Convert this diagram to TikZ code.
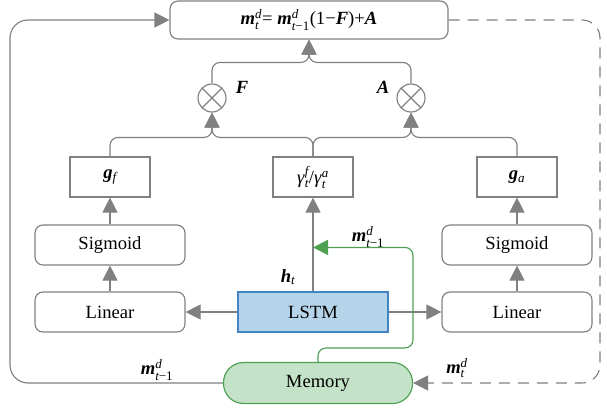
\documentclass[tikz,border=0pt]{standalone}
\usepackage{amsmath}
\usepackage{fontspec}
\setmainfont{Liberation Serif}
\usetikzlibrary{calc,arrows.meta}

\definecolor{lin}{RGB}{128,128,128}
\definecolor{lstmfill}{RGB}{181,212,233}
\definecolor{lstmdraw}{RGB}{66,132,200}
\definecolor{memfill}{RGB}{196,226,200}
\definecolor{memdraw}{RGB}{78,160,82}

\newcommand{\bv}[1]{\textbf{\textit{#1}}}
\newcommand{\iv}[1]{\textit{#1}}

\begin{document}
\begin{tikzpicture}
      [x=1pt,y=-1pt
    % общие настройки: шрифт и толщина линий
      ,font=\fontsize{18.6}{22}\selectfont
      ,every path/.style={line width=1.15pt}
    % блоки схемы
      ,rbox/.style={draw=lin,rounded corners=8pt,minimum width=150pt,minimum height=40pt}
      ,gbox/.style={draw=lin,minimum width=80pt,minimum height=40pt}
      ,mul/.style={draw=lin,circle,minimum size=28pt,inner sep=0pt
          ,path picture={\draw[lin] (path picture bounding box.north west) -- (path picture bounding box.south east)
                                    (path picture bounding box.north east) -- (path picture bounding box.south west);}}
    % соединения
      ,con/.style={draw=lin,rounded corners=8pt,-{Triangle[length=15pt,width=15pt]}}
      ,gcon/.style={draw=memdraw,rounded corners=8pt,-{Triangle[length=15pt,width=15pt]}}
      ]
    \useasboundingbox (0,0) rectangle (607,408);

    % блоки
    \node[rbox,minimum width=278pt,minimum height=38pt] (top) at (309,20)
        {\bv{m}$^{\iv{d}}_{\iv{t}}$= \bv{m}$^{\iv{d}}_{\iv{t}\text{−1}}$(1−\bv{F})+\bv{A}};
    \node[mul] (mulF) at (212,98) {};
    \node[mul] (mulA) at (411,98) {};
    \node[gbox] (gf) at (110,177) {\bv{g}$_{\iv{f}}$};
    \node[gbox] (gam) at (313,177) {\iv{γ}$^{\iv{f}}_{\iv{t}}$/\iv{γ}$^{\iv{a}}_{\iv{t}}$};
    \node[gbox] (ga) at (517,177) {\bv{g}$_{\iv{a}}$};
    \node[rbox] (sigL) at (110,245) {Sigmoid};
    \node[rbox] (sigR) at (517,245) {Sigmoid};
    \node[rbox] (linL) at (110,312) {Linear};
    \node[rbox] (linR) at (517,312) {Linear};
    \node[draw=lstmdraw,fill=lstmfill,minimum width=150pt,minimum height=40pt] (lstm) at (313,312) {LSTM};
    \node[draw=memdraw,fill=memfill,rounded corners=20pt,minimum width=189pt,minimum height=41pt] (mem) at (318,383) {Memory};

    % подписи
    \node (lF) at (242,87) {\bv{F}};
    \node (lA) at (383,87) {\bv{A}};
    \node (lh) at (288,277) {\bv{h}$_{\iv{t}}$};
    \node (lmg) at (368,237) {\bv{m}$^{\iv{d}}_{\iv{t}\text{−1}}$};
    \node (lml) at (157,370) {\bv{m}$^{\iv{d}}_{\iv{t}\text{−1}}$};
    \node (lmr) at (457,368) {\bv{m}$^{\iv{d}}_{\iv{t}}$};

    % вспомогательные точки
    \coordinate (lft) at (10,200);
    \coordinate (rgt) at (600,200);
    \coordinate (grn) at (413,300);
    \coordinate (gin) at ($(lstm.north)+(0,-44)$);

    % стрелки
    \draw[con] (linL) -- (sigL);
    \draw[con] (sigL) -- (gf);
    \draw[con] (linR) -- (sigR);
    \draw[con] (sigR) -- (ga);
    \draw[con] (lstm.west) -- (linL.east);
    \draw[con] (lstm.east) -- (linR.west);
    \draw[con] (lstm.north) -- (gam.south);
    \draw[con] (gf.north) -- ++(0,-19) -| (mulF.south);
    \draw[con] (gam.north) -- ++(0,-19) -| (mulF.south);
    \draw[con] (gam.north) -- ++(0,-19) -| (mulA.south);
    \draw[con] (ga.north) -- ++(0,-19) -| (mulA.south);
    \draw[con] (mulF.north) -- ++(0,-21) -| (top.south);
    \draw[con] (mulA.north) -- ++(0,-21) -| (top.south);
    \draw[con,rounded corners=18pt] (mem.west) -| (lft) |- (top.west);
    \draw[con,dash pattern=on 11pt off 8pt,rounded corners=18pt] (top.east) -| (rgt) |- (mem.east);
    \draw[gcon] (mem.north) -- ++(0,-14) -| (grn) |- (gin);
\end{tikzpicture}
\end{document}
